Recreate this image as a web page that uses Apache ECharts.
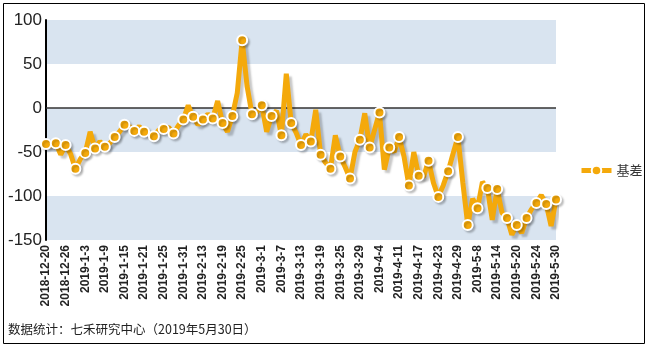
<!DOCTYPE html>
<html>
<head>
<meta charset="utf-8">
<script src="https://cdn.jsdelivr.net/npm/echarts@6/dist/echarts.min.js"></script>
<style>
html,body{margin:0;padding:0;background:#fff;}
#main{width:648px;height:351px;}
</style>
</head>
<body>
<div id="main"></div>
<script>
var categories = [
'2018-12-20','2018-12-21','2018-12-24','2018-12-25','2018-12-26','2018-12-27','2018-12-28',
'2019-1-2','2019-1-3','2019-1-4','2019-1-7','2019-1-8','2019-1-9','2019-1-10','2019-1-11','2019-1-14','2019-1-15','2019-1-16','2019-1-17','2019-1-18','2019-1-21','2019-1-22','2019-1-23','2019-1-24','2019-1-25','2019-1-28','2019-1-29','2019-1-30','2019-1-31',
'2019-2-1','2019-2-11','2019-2-12','2019-2-13','2019-2-14','2019-2-15','2019-2-18','2019-2-19','2019-2-20','2019-2-21','2019-2-22','2019-2-25','2019-2-26','2019-2-27','2019-2-28',
'2019-3-1','2019-3-4','2019-3-5','2019-3-6','2019-3-7','2019-3-8','2019-3-11','2019-3-12','2019-3-13','2019-3-14','2019-3-15','2019-3-18','2019-3-19','2019-3-20','2019-3-21','2019-3-22','2019-3-25','2019-3-26','2019-3-27','2019-3-28','2019-3-29',
'2019-4-1','2019-4-2','2019-4-3','2019-4-4','2019-4-8','2019-4-9','2019-4-10','2019-4-11','2019-4-12','2019-4-15','2019-4-16','2019-4-17','2019-4-18','2019-4-19','2019-4-22','2019-4-23','2019-4-24','2019-4-25','2019-4-26','2019-4-29','2019-4-30',
'2019-5-6','2019-5-7','2019-5-8','2019-5-9','2019-5-10','2019-5-13','2019-5-14','2019-5-15','2019-5-16','2019-5-17','2019-5-20','2019-5-21','2019-5-22','2019-5-23','2019-5-24','2019-5-27','2019-5-28','2019-5-29','2019-5-30'
];
var basis = [
-41,-43,-40,-53,-42,-52,-69,-58,-51,-27,
-46,-38,-44,-40,-33,-27,-19,-21,-26,-21,
-27,-30,-32,-25,-24,-22,-29,-20,-13,3,
-10,-19,-13,-7,-12,8,-17,-27,-9,17,
77,25,-7,-5,3,-27,-9,-3,-31,39,
-17,-28,-42,-30,-38,-2,-53,-62,-69,-31,
-55,-67,-80,-50,-36,-6,-45,-25,-5,-70,
-45,-50,-33,-55,-88,-50,-77,-78,-60,-85,
-101,-88,-72,-52,-33,-85,-133,-103,-114,-84,
-91,-127,-92,-119,-125,-144,-133,-142,-125,-115,
-108,-99,-109,-134,-104
];
var yTicks = [-150,-100,-50,0,50,100];
var seriesName = '基差';
var footnote = '数据统计：七禾研究中心（2019年5月30日）';

var seriesData = basis.map(function(v, i){
  return i % 2 === 0 ? {value: v} : {value: v, symbol: 'none'};
});

var chart = echarts.init(document.getElementById('main'), null, {renderer:'canvas'});
chart.setOption({
  animation: false,
  backgroundColor: '#fff',
  grid: {left: 46, right: 92, top: 20, bottom: 111, containLabel: false},
  legend: {
    data: [seriesName],
    orient: 'vertical',
    left: 574, top: 159,
    itemWidth: 30, itemHeight: 12,
    itemGap: 10,
    lineStyle: {width: 5},
    textStyle: {fontFamily: 'Noto Sans CJK SC', fontSize: 13, color: '#333'}
  },
  xAxis: {
    type: 'category',
    data: categories,
    boundaryGap: false,
    axisLine: {show: false},
    axisTick: {show: false},
    splitLine: {show: false},
    axisLabel: {
      interval: 3,
      rotate: 90,
      margin: 5,
      padding: [0, 0, 12, 0],
      fontFamily: 'Liberation Sans, Arial, sans-serif',
      fontSize: 12,
      fontWeight: 'bold',
      color: '#222'
    }
  },
  yAxis: {
    type: 'value',
    min: yTicks[0], max: yTicks[yTicks.length - 1], interval: 50,
    axisLine: {show: true, lineStyle: {color: '#000', width: 2}},
    axisTick: {show: false},
    splitLine: {show: false},
    splitArea: {show: true, areaStyle: {color: ['#D9E4F0', '#ffffff']}},
    axisLabel: {
      margin: 4,
      fontFamily: 'Liberation Sans, Arial, sans-serif',
      fontSize: 17,
      color: '#222'
    }
  },
  series: [{
    name: seriesName,
    type: 'line',
    data: seriesData,
    showAllSymbol: true,
    symbol: 'circle',
    symbolSize: 10,
    itemStyle: {color: '#F4A90B', borderColor: '#fff', borderWidth: 2,
      shadowColor: 'rgba(0,0,0,0.2)', shadowBlur: 2, shadowOffsetX: 2, shadowOffsetY: 2},
    lineStyle: {color: '#F4A90B', width: 5,
      shadowColor: 'rgba(0,0,0,0.22)', shadowBlur: 2, shadowOffsetX: 3, shadowOffsetY: 3},
    z: 3,
    markLine: {
      silent: true,
      symbol: 'none',
      label: {show: false},
      lineStyle: {color: '#333', width: 1.5, type: 'solid'},
      data: [{yAxis: 0}],
      z: 2
    }
  }],
  graphic: [
    {type: 'rect', shape: {x: 3.5, y: 3.5, width: 641, height: 340},
     style: {fill: 'none', stroke: '#000', lineWidth: 1}, silent: true},
    {type: 'text', left: 8, top: 323,
     style: {text: footnote, fill: '#222', font: '12.5px "Noto Sans CJK SC", sans-serif'}}
  ]
});
</script>
</body>
</html>
